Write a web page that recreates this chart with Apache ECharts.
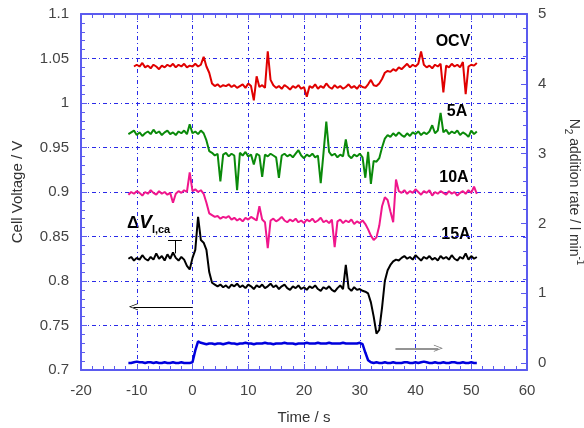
<!DOCTYPE html>
<html>
<head>
<meta charset="utf-8">
<script src="https://cdn.jsdelivr.net/npm/echarts@6/dist/echarts.min.js"></script>
<style>
  html, body { margin: 0; padding: 0; background: #fff; }
  #chart { width: 584px; height: 428px; }
</style>
</head>
<body>
<div id="chart"></div>
<script>
// time axis (s)
var times = [-11.5,-11,-10.5,-10,-9.5,-9,-8.5,-8,-7.5,-7,-6.5,-6,-5.5,-5,-4.5,-4,-3.5,-3,-2.5,-2,
  -1.5,-1,-0.5,0,0.5,1,1.5,2,2.5,3,3.5,4,4.5,5,5.5,6,6.5,7,7.5,8,
  8.5,9,9.5,10,10.5,11,11.5,12,12.5,13,13.5,14,14.5,15,15.5,16,16.5,17,17.5,18,
  18.5,19,19.5,20,20.5,21,21.5,22,22.5,23,23.5,24,24.5,25,25.5,26,26.5,27,27.5,28,
  28.5,29,29.5,30,30.5,31,31.5,32,32.5,33,33.5,34,34.5,35,35.5,36,36.5,37,37.5,38,
  38.5,39,39.5,40,40.5,41,41.5,42,42.5,43,43.5,44,44.5,45,45.5,46,46.5,47,47.5,48,
  48.5,49,49.5,50,50.5,51];

// cell voltage, V
var ocv = [null,null,1.041,1.043,1.041,1.045,1.040,1.042,1.039,1.043,
  1.041,1.038,1.042,1.040,1.043,1.041,1.044,1.040,1.043,1.041,
  1.044,1.040,1.042,1.041,1.044,1.041,1.043,1.052,1.041,1.034,
  1.022,1.019,1.021,1.018,1.020,1.019,1.021,1.018,1.020,1.017,
  1.019,1.021,1.017,1.022,1.019,1.003,1.030,1.018,1.020,1.017,
  1.058,1.026,1.020,1.017,1.019,1.016,1.020,1.018,1.015,1.019,
  1.017,1.020,1.016,1.018,1.007,1.019,1.017,1.021,1.016,1.019,
  1.017,1.022,1.018,1.016,1.020,1.017,1.019,1.016,1.018,1.021,
  1.017,1.019,1.016,1.020,1.018,1.017,1.021,1.026,1.020,1.019,
  1.022,1.027,1.034,1.036,1.035,1.038,1.036,1.040,1.038,1.041,
  1.044,1.040,1.043,1.041,1.044,1.058,1.043,1.040,1.042,1.039,
  1.043,1.041,1.044,1.012,1.042,1.040,1.044,1.041,1.043,1.040,
  1.046,1.010,1.041,1.043,1.042,1.045];

var a5 = [0.965,0.967,0.969,0.964,0.967,0.963,0.966,0.968,0.965,0.970,
  0.966,0.968,0.964,0.967,0.969,0.965,0.967,0.964,0.968,0.966,
  0.969,0.965,0.976,0.966,0.968,0.965,0.969,0.966,0.958,0.946,
  0.944,0.941,0.943,0.912,0.942,0.944,0.940,0.943,0.941,0.902,
  0.944,0.941,0.945,0.940,0.942,0.931,0.943,0.941,0.917,0.942,
  0.940,0.943,0.941,0.939,0.916,0.941,0.943,0.940,0.942,0.939,
  0.943,0.947,0.941,0.938,0.942,0.940,0.943,0.939,0.941,0.910,
  0.944,0.979,0.945,0.941,0.943,0.939,0.942,0.940,0.959,0.941,
  0.938,0.942,0.940,0.943,0.939,0.916,0.945,0.909,0.935,0.934,
  0.938,0.950,0.960,0.964,0.962,0.966,0.963,0.967,0.964,0.962,
  0.966,0.963,0.967,0.965,0.968,0.964,0.967,0.965,0.968,0.975,
  0.966,0.969,0.989,0.967,0.970,0.965,0.968,0.966,0.969,0.964,
  0.967,0.965,0.962,0.969,0.965,0.968];

var a10 = [0.897,0.900,0.898,0.901,0.899,0.896,0.900,0.898,0.902,0.899,
  0.897,0.901,0.898,0.900,0.897,0.899,0.888,0.898,0.901,0.899,
  0.902,0.900,0.922,0.901,0.903,0.900,0.902,0.898,0.888,0.876,
  0.874,0.872,0.873,0.870,0.872,0.871,0.873,0.869,0.871,0.868,
  0.870,0.867,0.871,0.869,0.872,0.870,0.868,0.884,0.869,0.866,
  0.837,0.868,0.870,0.867,0.869,0.872,0.868,0.866,0.869,0.867,
  0.870,0.866,0.868,0.865,0.869,0.867,0.870,0.866,0.868,0.871,
  0.866,0.868,0.865,0.869,0.838,0.867,0.869,0.865,0.868,0.866,
  0.869,0.864,0.867,0.865,0.868,0.864,0.858,0.851,0.846,0.849,
  0.862,0.884,0.894,0.891,0.878,0.866,0.914,0.901,0.899,0.902,
  0.898,0.901,0.899,0.903,0.900,0.897,0.901,0.899,0.902,0.896,
  0.900,0.898,0.901,0.899,0.897,0.901,0.898,0.900,0.896,0.899,
  0.901,0.898,0.902,0.899,0.906,0.898];

var a15 = [0.825,0.827,0.823,0.826,0.824,0.829,0.825,0.823,0.827,0.824,
  0.831,0.825,0.828,0.823,0.830,0.825,0.832,0.826,0.823,0.827,
  0.824,0.817,0.813,0.826,0.835,0.872,0.846,0.843,0.835,0.810,
  0.798,0.796,0.794,0.796,0.793,0.795,0.792,0.796,0.794,0.797,
  0.793,0.795,0.792,0.796,0.794,0.791,0.795,0.793,0.796,0.792,
  0.794,0.797,0.793,0.795,0.791,0.794,0.796,0.792,0.790,0.794,
  0.792,0.795,0.791,0.793,0.790,0.794,0.792,0.795,0.791,0.789,
  0.793,0.791,0.794,0.790,0.788,0.792,0.795,0.791,0.818,0.792,
  0.789,0.793,0.790,0.791,0.789,0.788,0.786,0.776,0.760,0.741,
  0.745,0.770,0.800,0.812,0.818,0.822,0.824,0.823,0.826,0.828,
  0.825,0.827,0.824,0.829,0.826,0.823,0.827,0.825,0.828,0.824,
  0.826,0.823,0.828,0.825,0.827,0.824,0.829,0.825,0.823,0.827,
  0.825,0.831,0.824,0.828,0.825,0.827];

// N2 addition rate, l/min
var n2 = [0.00,0.00,0.01,0.02,0.01,0.01,0.00,0.01,0.01,0.00,
  0.01,0.00,0.00,0.01,0.00,0.00,0.01,0.00,0.00,0.01,
  0.00,0.00,0.00,0.01,0.18,0.31,0.29,0.28,0.27,0.28,
  0.28,0.27,0.28,0.28,0.27,0.28,0.29,0.28,0.28,0.27,
  0.28,0.28,0.29,0.28,0.28,0.27,0.28,0.28,0.28,0.29,
  0.28,0.28,0.27,0.28,0.28,0.28,0.29,0.28,0.28,0.28,
  0.27,0.28,0.28,0.28,0.29,0.28,0.28,0.28,0.29,0.28,
  0.28,0.28,0.29,0.28,0.28,0.28,0.28,0.29,0.28,0.28,
  0.28,0.28,0.28,0.29,0.27,0.15,0.04,0.01,0.00,0.01,
  0.00,0.00,0.01,0.00,0.00,0.01,0.00,0.00,0.00,0.01,
  0.01,0.00,0.00,0.01,0.00,0.01,0.02,0.01,0.00,0.00,
  0.01,0.00,0.00,0.01,0.00,0.00,0.01,0.01,0.00,0.00,
  0.01,0.00,0.00,0.01,0.00,0.00];

var rightLabels = [0, 1, 2, 3, 4, 5];
var rightMinor = [0.2,0.4,0.6,0.8,1.2,1.4,1.6,1.8,2.2,2.4,2.6,2.8,3.2,3.4,3.6,3.8,4.2,4.4,4.6,4.8];

function pairs(vals) {
    return times.map(function (t, i) { return [t, vals[i]]; });
}

var chart = echarts.init(document.getElementById('chart'));
var frame = '#5b5bef';
var gridLine = { show: true, lineStyle: { color: '#2a2ae8', width: 1, type: [4, 3, 1, 3] } };
var font = 'Liberation Sans';
var arrowHead = 'path://M5,0 L10,10 L9,10 L5,2 L1,10 L0,10 Z';

option = {
    animation: false,
    backgroundColor: '#fff',
    grid: { left: 81, right: 57, top: 14, bottom: 58, outerBoundsMode: 'none' },
    xAxis: [{
        type: 'value', min: -20, max: 60, interval: 10,
        name: 'Time / s', nameLocation: 'middle', nameGap: 40,
        nameTextStyle: { fontFamily: font, fontSize: 15, color: '#333' },
        axisLine: { onZero: false, lineStyle: { color: frame, width: 2 } },
        axisTick: { inside: true, length: 6, lineStyle: { color: frame } },
        minorTick: { show: true, splitNumber: 5, length: 4, lineStyle: { color: frame } },
        axisLabel: { fontFamily: font, fontSize: 15, color: '#444', margin: 13 },
        splitLine: gridLine
    }, {
        type: 'value', min: -20, max: 60, interval: 10, position: 'top',
        axisLine: { onZero: false, lineStyle: { color: frame, width: 2 } },
        axisTick: { inside: true, length: 6, lineStyle: { color: frame } },
        minorTick: { show: true, splitNumber: 5, length: 4, lineStyle: { color: frame } },
        axisLabel: { show: false },
        splitLine: { show: false }
    }],
    yAxis: [{
        type: 'value', min: 0.7, max: 1.1, interval: 0.05,
        name: 'Cell Voltage / V', nameLocation: 'middle', nameGap: 56,
        nameTextStyle: { fontFamily: font, fontSize: 15, color: '#333' },
        axisLine: { onZero: false, lineStyle: { color: frame, width: 2 } },
        axisTick: { inside: true, length: 6, lineStyle: { color: frame } },
        minorTick: { show: true, splitNumber: 5, length: 4, lineStyle: { color: frame } },
        axisLabel: { fontFamily: font, fontSize: 15, color: '#444', margin: 12 },
        splitLine: gridLine
    }, {
        type: 'value', min: -0.1, max: 5, position: 'right',
        name: '{n|N}{s|2}{n| addition rate / l min}{p|-1}',
        nameLocation: 'middle', nameGap: 36, nameRotate: -90,
        nameTextStyle: {
            fontFamily: font, fontSize: 14, color: '#333',
            rich: {
                n: { fontFamily: font, fontSize: 14, color: '#333', lineHeight: 22, verticalAlign: 'middle' },
                s: { fontFamily: font, fontSize: 10, color: '#333', lineHeight: 22, verticalAlign: 'bottom' },
                p: { fontFamily: font, fontSize: 10, color: '#333', lineHeight: 22, verticalAlign: 'top' }
            }
        },
        axisLine: { show: true, onZero: false, lineStyle: { color: frame, width: 2 } },
        axisTick: { show: true, inside: true, length: 6, customValues: rightLabels, lineStyle: { color: frame } },
        axisLabel: { customValues: rightLabels, fontFamily: font, fontSize: 15, color: '#444', margin: 11 },
        splitLine: { show: false }
    }, {
        type: 'value', min: -0.1, max: 5, position: 'right',
        axisLine: { show: false, onZero: false },
        axisTick: { show: true, inside: true, length: 4, customValues: rightMinor, lineStyle: { color: frame } },
        axisLabel: { show: false },
        splitLine: { show: false }
    }],
    graphic: [
        { type: 'text', x: 453, y: 42, style: { text: 'OCV', font: 'bold 16px "Liberation Sans"', fill: '#000', align: 'center', verticalAlign: 'middle' } },
        { type: 'text', x: 457, y: 112, style: { text: '5A', font: 'bold 16px "Liberation Sans"', fill: '#000', align: 'center', verticalAlign: 'middle' } },
        { type: 'text', x: 454, y: 178, style: { text: '10A', font: 'bold 16px "Liberation Sans"', fill: '#000', align: 'center', verticalAlign: 'middle' } },
        { type: 'text', x: 456, y: 235, style: { text: '15A', font: 'bold 16px "Liberation Sans"', fill: '#000', align: 'center', verticalAlign: 'middle' } },
        { type: 'text', x: 127, y: 211, style: {
            text: '{d|Δ}{v|V}{s|I,ca}', fill: '#000',
            rich: {
                d: { fontFamily: font, fontSize: 17, fontWeight: 'bold', lineHeight: 24, verticalAlign: 'middle' },
                v: { fontFamily: font, fontSize: 19, fontWeight: 'bold', fontStyle: 'italic', lineHeight: 24, verticalAlign: 'middle' },
                s: { fontFamily: font, fontSize: 11, fontWeight: 'bold', lineHeight: 24, verticalAlign: 'bottom' }
            }
        } }
    ],
    series: [
        { name: 'OCV', type: 'line', data: pairs(ocv), showSymbol: false, lineStyle: { color: '#e00000', width: 2 }, itemStyle: { color: '#e00000' } },
        { name: '5A', type: 'line', data: pairs(a5), showSymbol: false, lineStyle: { color: '#0a8a0a', width: 2 }, itemStyle: { color: '#0a8a0a' } },
        { name: '10A', type: 'line', data: pairs(a10), showSymbol: false, lineStyle: { color: '#f0168c', width: 2 }, itemStyle: { color: '#f0168c' } },
        { name: '15A', type: 'line', data: pairs(a15), showSymbol: false, lineStyle: { color: '#000', width: 2 }, itemStyle: { color: '#000' },
          markLine: {
              silent: true, animation: false, label: { show: false },
              symbol: ['none', 'none'],
              lineStyle: { color: '#000', width: 1, type: 'solid' },
              data: [
                  [{ coord: [0, 0.771], symbol: 'none' }, { coord: [-10.6, 0.771], symbol: arrowHead, symbolSize: [7, 9] }],
                  [{ coord: [36.4, 0.7244], symbol: 'none', lineStyle: { color: '#707070', width: 1.5 } }, { coord: [44.1, 0.7244], symbol: arrowHead, symbolSize: [7, 9] }],
                  [{ coord: [-4.4, 0.8461] }, { coord: [-1.9, 0.8461] }],
                  [{ coord: [-3.15, 0.8461] }, { coord: [-3.15, 0.831] }]
              ]
          } },
        { name: 'N2', type: 'line', yAxisIndex: 1, data: pairs(n2), showSymbol: false, lineStyle: { color: '#0000dd', width: 2.5 }, itemStyle: { color: '#0000dd' } }
    ]
};
chart.setOption(option);
</script>
</body>
</html>
